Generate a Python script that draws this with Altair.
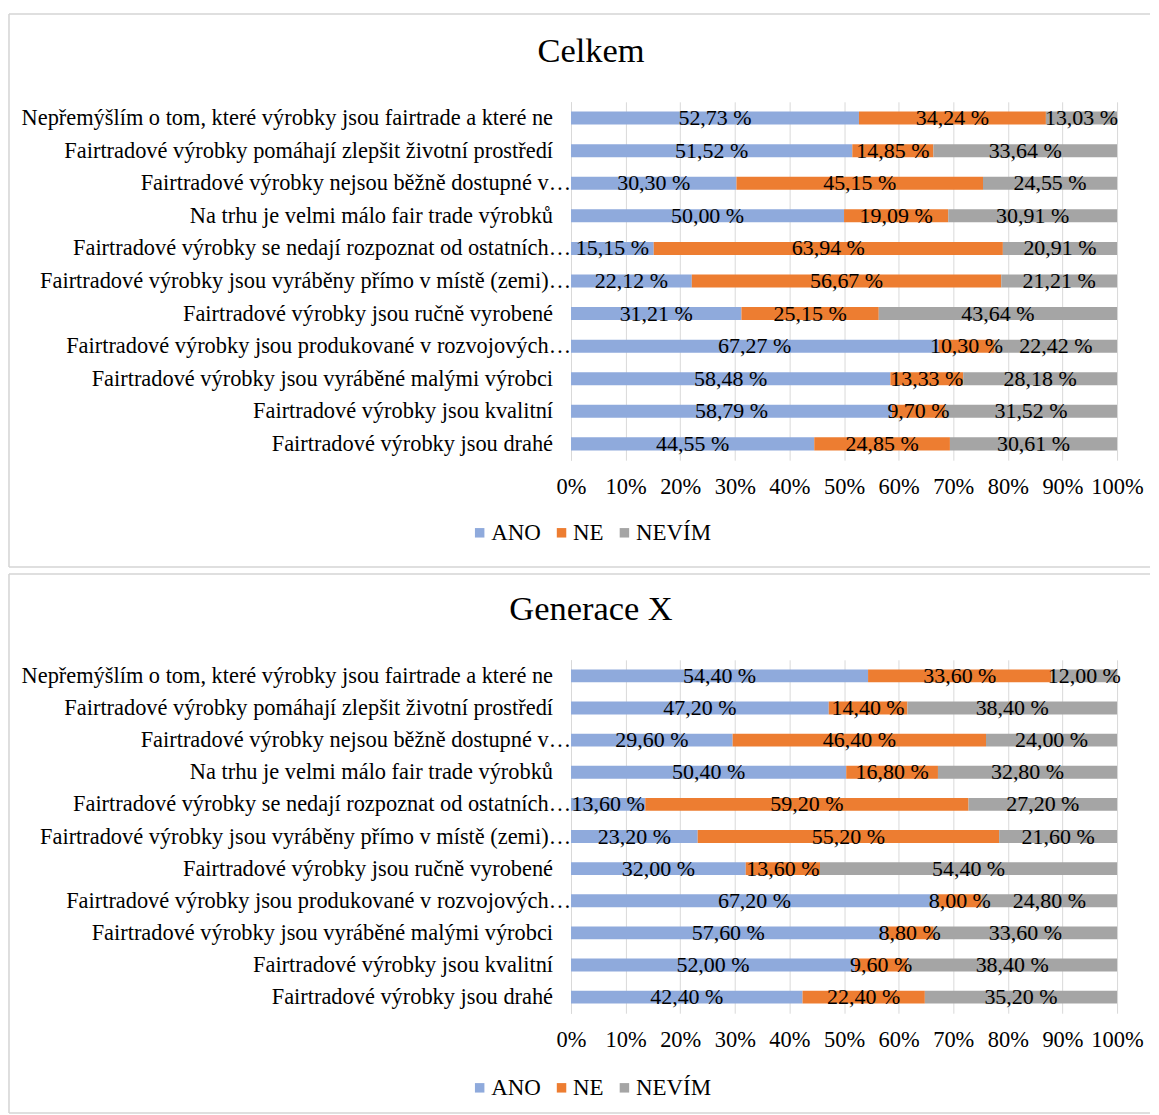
import altair as alt
import pandas as pd

FONT = "Liberation Serif"

categories = [
    "Nepřemýšlím o tom, které výrobky jsou fairtrade a které ne",
    "Fairtradové výrobky pomáhají zlepšit životní prostředí",
    "Fairtradové výrobky nejsou běžně dostupné v…",
    "Na trhu je velmi málo fair trade výrobků",
    "Fairtradové výrobky se nedají rozpoznat od ostatních…",
    "Fairtradové výrobky jsou vyráběny přímo v místě (zemi)…",
    "Fairtradové výrobky jsou ručně vyrobené",
    "Fairtradové výrobky jsou produkované v rozvojových…",
    "Fairtradové výrobky jsou vyráběné malými výrobci",
    "Fairtradové výrobky jsou kvalitní",
    "Fairtradové výrobky jsou drahé",
]
series = ["ANO", "NE", "NEVÍM"]
colors = ["#8faadc", "#ed7d31", "#a5a5a5"]

celkem_ano = [52.73, 51.52, 30.30, 50.00, 15.15, 22.12, 31.21, 67.27, 58.48, 58.79, 44.55]
celkem_ne = [34.24, 14.85, 45.15, 19.09, 63.94, 56.67, 25.15, 10.30, 13.33, 9.70, 24.85]
celkem_nevim = [13.03, 33.64, 24.55, 30.91, 20.91, 21.21, 43.64, 22.42, 28.18, 31.52, 30.61]

genx_ano = [54.40, 47.20, 29.60, 50.40, 13.60, 23.20, 32.00, 67.20, 57.60, 52.00, 42.40]
genx_ne = [33.60, 14.40, 46.40, 16.80, 59.20, 55.20, 13.60, 8.00, 8.80, 9.60, 22.40]
genx_nevim = [12.00, 38.40, 24.00, 32.80, 27.20, 21.60, 54.40, 24.80, 33.60, 38.40, 35.20]

x_ticks = [0, 0.1, 0.2, 0.3, 0.4, 0.5, 0.6, 0.7, 0.8, 0.9, 1.0]


def make_df(ano, ne, nevim):
    rows = []
    for i, c in enumerate(categories):
        for k, (s, vals) in enumerate(zip(series, [ano, ne, nevim])):
            v = vals[i]
            rows.append({
                "cat": c,
                "series": s,
                "ord": k,
                "value": v,
                "label": f"{v:.2f}".replace(".", ",") + " %",
            })
    return pd.DataFrame(rows)


FRAME = "#d4d4d4"
cat_data = alt.Data(values=[{"cat": c} for c in categories])


def panel(title, df, height, frame_top, frame_bottom, legend_y):
    base = alt.Chart(df).transform_stack(
        stack="value",
        groupby=["cat"],
        sort=[alt.SortField("ord", order="ascending")],
        as_=["v0", "v1"],
        offset="normalize",
    ).transform_calculate(mid="(datum.v0 + datum.v1) / 2")

    yscale = alt.Scale(paddingInner=0.6, paddingOuter=0.3)
    bars = base.mark_bar().encode(
        x=alt.X(
            "v0:Q",
            scale=alt.Scale(domain=[0, 1]),
            title=None,
            axis=alt.Axis(
                values=x_ticks, format=".0%", grid=True, gridColor="#d9d9d9",
                gridWidth=1, domain=False, ticks=False, labelPadding=15,
                labelOverlap=False, labelFlush=False, labelFontSize=22.5,
                title=None,
            ),
        ),
        x2="v1:Q",
        y=alt.Y(
            "cat:N", sort=categories, title=None, scale=yscale,
            axis=alt.Axis(domain=True, domainColor="#d9d9d9", ticks=False,
                          labels=False, title=None),
        ),
        color=alt.Color(
            "series:N",
            scale=alt.Scale(domain=series, range=colors),
            sort=series,
            legend=alt.Legend(
                orient="none", legendX=-103, legendY=legend_y,
                direction="horizontal", title=None, symbolType="square",
                symbolSize=90, symbolStrokeWidth=0, labelFont=FONT,
                labelFontSize=23, labelColor="black", columnPadding=9,
                labelOffset=0,
            ),
        ),
    )
    texts = base.mark_text(font=FONT, fontSize=22, color="black").encode(
        x=alt.X("mid:Q", title=None),
        y=alt.Y("cat:N", sort=categories, title=None),
        text="label:N",
    )
    # category labels: truncated ones (ending with …) run up to the axis
    lab_trunc = alt.Chart(cat_data).transform_filter(
        "indexof(datum.cat, '…') >= 0"
    ).mark_text(font=FONT, fontSize=22.4, color="black", align="right",
                baseline="middle").encode(
        x=alt.value(0), y=alt.Y("cat:N", sort=categories, title=None), text="cat:N")
    lab_full = alt.Chart(cat_data).transform_filter(
        "indexof(datum.cat, '…') < 0"
    ).mark_text(font=FONT, fontSize=22.4, color="black", align="right",
                baseline="middle").encode(
        x=alt.value(-18), y=alt.Y("cat:N", sort=categories, title=None), text="cat:N")

    fr = alt.Data(values=[{"a": 1}])
    top_line = alt.Chart(fr).mark_rule(color=FRAME, strokeWidth=1.5).encode(
        x=alt.value(-563), x2=alt.value(580), y=alt.value(frame_top))
    bottom_line = alt.Chart(fr).mark_rule(color=FRAME, strokeWidth=1.5).encode(
        x=alt.value(-563), x2=alt.value(580), y=alt.value(frame_bottom))
    left_line = alt.Chart(fr).mark_rule(color=FRAME, strokeWidth=1.5).encode(
        x=alt.value(-563), y=alt.value(frame_top), y2=alt.value(frame_bottom))
    ttl = alt.Chart(alt.Data(values=[{"t": title}])).mark_text(
        font=FONT, fontSize=34.5, color="black", baseline="middle", align="center"
    ).encode(x=alt.value(20), y=alt.value(-50), text="t:N")
    return alt.layer(top_line, bottom_line, left_line, ttl, bars, texts,
                     lab_trunc, lab_full).properties(width=547, height=height)


top = panel("Celkem", make_df(celkem_ano, celkem_ne, celkem_nevim), 359, -88, 466, 420)
bottom = panel("Generace X", make_df(genx_ano, genx_ne, genx_nevim), 354, -86, 454, 417)

chart = alt.vconcat(top, bottom, spacing=5).resolve_scale(
    y="independent", color="independent"
).resolve_legend(color="independent").properties(
    padding={"left": 0, "top": 4, "right": 0, "bottom": 0}
).configure_view(stroke=None).configure_axis(
    labelFont=FONT, labelFontSize=22, labelColor="black"
)

chart.save("out.html", embed_options={"renderer": "svg", "actions": False})
